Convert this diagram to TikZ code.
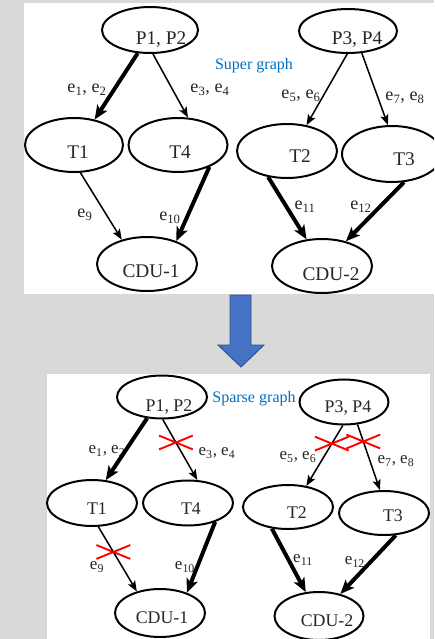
\documentclass[tikz,border=0pt]{standalone}
\usepackage{fontspec}
\setmainfont{Liberation Serif}
\usetikzlibrary{arrows.meta,shapes.geometric,shapes.misc}
\definecolor{PanelGray}{HTML}{D9D9D9}
\definecolor{TagBlue}{HTML}{0070C0}
\definecolor{ArrowFill}{HTML}{4472C4}
\definecolor{ArrowLine}{HTML}{2F528F}
\definecolor{InkGray}{HTML}{262626}
\tikzset{>=Stealth,ov/.style 2 args={ellipse,draw,line width=1.7pt,inner sep=0pt,
 minimum width=#1*0.3mm,minimum height=#2*0.3mm},
 txt/.style={text=InkGray,inner sep=0pt,font=\fontsize{16.5}{18}\selectfont},
 txtb/.style={text=InkGray,inner sep=0pt,font=\fontsize{15.2}{17}\selectfont},
 elab/.style={text=InkGray,inner sep=0pt,font=\fontsize{15.5}{17}\selectfont},
 elabb/.style={text=InkGray,inner sep=0pt,font=\fontsize{14.5}{16}\selectfont},
 lite/.style={line width=1.3pt,-{Stealth[length=9pt,width=7pt,inset=2pt]}},
 heavy/.style={line width=3.4pt,-{Stealth[length=12pt,width=10pt,inset=3pt]}},
 cut/.style={cross out,draw=red,line width=1.6pt,inner sep=0pt,
 minimum width=9.6mm,minimum height=3.6mm},
 gname/.style={text=TagBlue,inner sep=0pt,font=\fontsize{13.7}{15}\selectfont}}
\begin{document}
\begin{tikzpicture}[x=0.3mm,y=-0.3mm]
\useasboundingbox (0,0) rectangle (434,639);
\clip (0,0) rectangle (434,639);
\fill[PanelGray] (0,0) rectangle (434,639);
\fill[white] (24,3) rectangle (434,294);
\fill[white] (47,374) rectangle (430,639);
\filldraw[fill=ArrowFill,draw=ArrowLine,line width=0.8pt] (230,295)--(251,295)--(251,345)
 --(264,345)--(241,367)--(218,345)--(230,345)--cycle;
\foreach \n/\x/\y/\w/\h/\t/\tx/\ty in {p12/150/30/96/46/{P1, P2}/161/40,
 p34/348/31/98/44/{P3, P4}/357/40,t1/74/145/98/54/T1/78/152,t4/178/145/99/54/T4/180/152,
 t2/287/151/100/54/T2/300/156,t3/392/154/100/56/T3/404/159,
 c1/147/264/100/54/CDU-1/151/271,c2/322/266/100/54/CDU-2/331/274}
 {\node[ov={\w}{\h}] (\n) at (\x,\y) {};\node[txt] (\n t) at (\tx,\ty) {\t};}
\foreach \n/\x/\y/\w/\h/\t/\tx/\ty in {q12/162/397/90/43/{P1, P2}/169/407,
 q34/344/402/89/45/{P3, P4}/348/408,u1/92/503/90/46/T1/97/509,u4/188/503/90/45/T4/191/509,
 u2/288/507/90/44/T2/297/513,u3/384/513/90/44/T3/393/516,
 d1/160/613/90/48/CDU-1/162/618,d2/319/616/89/48/CDU-2/327/621}
 {\node[ov={\w}{\h}] (\n) at (\x,\y) {};\node[txtb] (\n t) at (\tx,\ty) {\t};}
\node[gname] (super) at (254,66) {Super graph};
\node[gname] (sparse) at (254,399) {Sparse graph};
\foreach \n/\x/\y/\t in {a1/87/90/{e\textsubscript{1}, e\textsubscript{2}},
 a2/210/90/{e\textsubscript{3}, e\textsubscript{4}},a3/301/96/{e\textsubscript{5}, e\textsubscript{6}},
 a4/405/98/{e\textsubscript{7}, e\textsubscript{8}},a5/85/215/{e\textsubscript{9}},
 a6/170/218/{e\textsubscript{10}},a7/305/207/{e\textsubscript{11}},a8/361/207/{e\textsubscript{12}}}
 {\node[elab] (\n) at (\x,\y) {\t};}
\foreach \n/\x/\y/\t in {b1/107/451/{e\textsubscript{1}, e\textsubscript{2}},
 b2/217/453/{e\textsubscript{3}, e\textsubscript{4}},b3/298/457/{e\textsubscript{5}, e\textsubscript{6}},
 b4/396/461/{e\textsubscript{7}, e\textsubscript{8}},b5/97/567/{e\textsubscript{9}},
 b6/185/567/{e\textsubscript{10}},b7/303/560/{e\textsubscript{11}},b8/355/562/{e\textsubscript{12}}}
 {\node[elabb] (\n) at (\x,\y) {\t};}
\foreach \a/\b/\s in {p12.242/t1.51/heavy,p12.277/t4.70/lite,p34.268/t2.53/lite,
 p34.302/t3.98/lite,t1.283/c1.136/lite,t4.325/c1.38/heavy,t2.234/c2.120/heavy,
 t3.293/c2.46/heavy,q12.235/u1.59/heavy,u4.325/d1.37/heavy,u2.233/d2.119/heavy,
 u3.298/d2.46/heavy}
 {\draw[\s] (\a) -- (\b);}
\draw[lite] (q12.272) -- node[cut,pos=.38] (x1) {} (u4.68);
\draw[lite] (q34.267) -- node[cut,pos=.30] (x2) {} (u2.49);
\draw[lite] (q34.301) -- node[cut,pos=.26] (x3) {} (u3.100);
\draw[lite] (u1.285) -- node[cut,pos=.39] (x4) {} (d1.137);
\end{tikzpicture}
\end{document}
